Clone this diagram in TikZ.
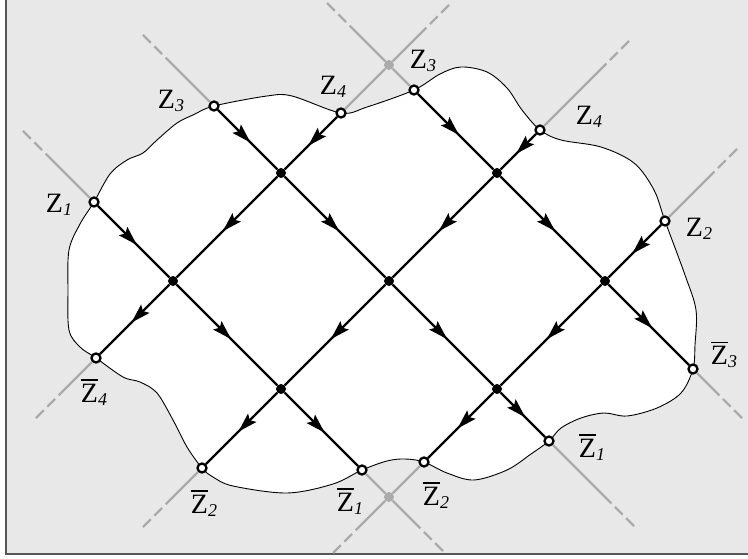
\documentclass[tikz,border=0pt]{standalone}
\usepackage{fontspec}
\setmainfont{Liberation Serif}
\usetikzlibrary{arrows.meta,decorations.markings,calc}
\definecolor{bggray}{HTML}{E8E8E8}
\definecolor{extgray}{HTML}{ABABAB}
\definecolor{framegray}{HTML}{555555}
\newcommand{\zlab}[1]{{\fontsize{28}{28}\selectfont Z\raisebox{-3pt}{\fontsize{18}{18}\selectfont\itshape #1}}}
\newcommand{\zbar}[1]{{\fontsize{28}{28}\selectfont\makebox[0pt][l]{\rule[21.5pt]{17pt}{1.5pt}}Z\raisebox{-3pt}{\fontsize{18}{18}\selectfont\itshape #1}}}
\tikzset{
  dot/.style={circle, fill=black, inner sep=0pt, minimum size=10pt},
  gdot/.style={circle, fill=extgray, inner sep=0pt, minimum size=10pt},
  port/.style={circle, draw=black, fill=white, line width=2.3pt, inner sep=0pt, minimum size=9pt},
  lab/.style={inner sep=0pt, anchor=center},
  flow/.style={line width=2.2pt, postaction={decorate},
    decoration={markings, mark=at position 0.53 with {%
      \fill[black] (1.5pt,0pt) -- (-18pt,6pt) -- (-14.5pt,0pt) -- (-18pt,-6pt) -- cycle;}}},
  extline/.style={extgray, line width=2.2pt},
  extdash/.style={extgray, line width=2.2pt, dash pattern=on 11pt off 5pt, dash phase=11pt},
}
\newcommand{\extend}[2]{%
  \draw[extline] (#1) -- ($(#2)!32pt!(#1)$);
  \draw[extdash] ($(#2)!32pt!(#1)$) -- (#2);}
\begin{document}
\begin{tikzpicture}[x=1pt,y=-1pt]
\useasboundingbox (0,0) rectangle (748,559);
\fill[white] (0,0) rectangle (748,559);
\fill[bggray] (6,0) rectangle (748,553);
\draw[framegray, line width=2pt] (5.5,0) -- (5.5,553.5) -- (748,553.5);

% region
\draw[black, line width=0.9pt, fill=white] plot[smooth cycle, tension=0.55] coordinates {
(94,202) (110,174) (127,160) (143,153) (157,140) (177,123) (193,115) (214,106)
(267,96) (292,96) (341,113) (367,107) (414,90) (440,74) (461,67) (487,72)
(507,88) (522,110) (540,130) (561,140) (601,147) (634,163) (654,190) (665,221)
(685,275) (696,310) (695,345) (693,369) (681,393) (657,408) (627,416) (604,413)
(581,418) (561,428) (549,441) (531,454) (507,470) (474,480) (447,473) (424,462)
(405,459) (387,461) (362,470) (333,484) (287,493) (233,486) (213,477) (202,468)
(187,447) (173,420) (157,393) (140,382) (123,377) (96,358) (80,347) (69,330)
(68,290) (69,250) (80,224)};

% lattice nodes
\node[dot] (n1) at (281,173) {};
\node[dot] (n2) at (497,173) {};
\node[dot] (n3) at (173,281) {};
\node[dot] (n4) at (389,281) {};
\node[dot] (n5) at (605,281) {};
\node[dot] (n6) at (281,389) {};
\node[dot] (n7) at (497,389) {};
\node[gdot] (g1) at (389,65) {};
\node[gdot] (g2) at (389,497) {};

% boundary ports
\node[port] (Z1) at (94,202) {};
\node[port] (Z3L) at (214,106) {};
\node[port] (Z4L) at (341,113) {};
\node[port] (Z3T) at (414,90) {};
\node[port] (Z4R) at (540,130) {};
\node[port] (Z2R) at (665,221) {};
\node[port] (Zb3) at (693,369) {};
\node[port] (Zb1R) at (549,441) {};
\node[port] (Zb2R) at (424,462) {};
\node[port] (Zb1L) at (362,470) {};
\node[port] (Zb2L) at (202,468) {};
\node[port] (Zb4) at (96,358) {};

% ends of the gray extensions
\coordinate (e1) at (23,131);
\coordinate (e3L) at (143,35);
\coordinate (e4L) at (449,5);
\coordinate (e3T) at (327,3);
\coordinate (e4R) at (629,41);
\coordinate (e2R) at (737,149);
\coordinate (eb3) at (742,418);
\coordinate (eb1R) at (634,526);
\coordinate (eb2R) at (333,553);
\coordinate (eb1L) at (443,551);
\coordinate (eb2L) at (143,527);
\coordinate (eb4) at (36,418);

\extend{Z1}{e1}
\extend{Z3L}{e3L}
\draw[extline] (Z4L) -- (g1);
\extend{g1}{e4L}
\draw[extline] (Z3T) -- (g1);
\extend{g1}{e3T}
\extend{Z4R}{e4R}
\extend{Z2R}{e2R}
\extend{Zb3}{eb3}
\extend{Zb1R}{eb1R}
\draw[extline] (Zb2R) -- (g2);
\extend{g2}{eb2R}
\draw[extline] (Zb1L) -- (g2);
\extend{g2}{eb1L}
\extend{Zb2L}{eb2L}
\extend{Zb4}{eb4}

% directed lattice lines
\draw[flow] (Z3L) -- (n1);
\draw[flow] (n1) -- (n4);
\draw[flow] (n4) -- (n7);
\draw[flow] (n7) -- (Zb1R);
\draw[flow] (Z1) -- (n3);
\draw[flow] (n3) -- (n6);
\draw[flow] (n6) -- (Zb1L);
\draw[flow] (Z3T) -- (n2);
\draw[flow] (n2) -- (n5);
\draw[flow] (n5) -- (Zb3);
\draw[flow] (Z4L) -- (n1);
\draw[flow] (n1) -- (n3);
\draw[flow] (n3) -- (Zb4);
\draw[flow] (Z4R) -- (n2);
\draw[flow] (n2) -- (n4);
\draw[flow] (n4) -- (n6);
\draw[flow] (n6) -- (Zb2L);
\draw[flow] (Z2R) -- (n5);
\draw[flow] (n5) -- (n7);
\draw[flow] (n7) -- (Zb2R);

% labels
\node[lab] (lZ1) at (59,205) {\zlab{1}};
\node[lab] (lZ3L) at (171,101) {\zlab{3}};
\node[lab] (lZ4L) at (333,87) {\zlab{4}};
\node[lab] (lZ3T) at (423,61) {\zlab{3}};
\node[lab] (lZ4R) at (589,117) {\zlab{4}};
\node[lab] (lZ2R) at (699,229) {\zlab{2}};
\node[lab] (lZb3) at (724,355) {\zbar{3}};
\node[lab] (lZb1R) at (592,447) {\zbar{1}};
\node[lab] (lZb2R) at (436,495) {\zbar{2}};
\node[lab] (lZb1L) at (350,501) {\zbar{1}};
\node[lab] (lZb2L) at (204,503) {\zbar{2}};
\node[lab] (lZb4) at (94,392) {\zbar{4}};
\end{tikzpicture}
\end{document}
